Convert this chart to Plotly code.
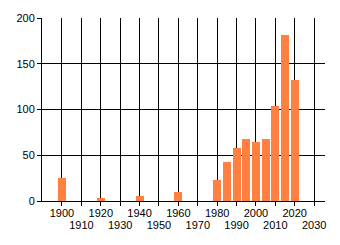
import plotly.graph_objects as go

years = [1900, 1920, 1940, 1960, 1980, 1985, 1990, 1995, 2000, 2005, 2010, 2015, 2020]
counts = [25, 3, 5, 10, 23, 43, 58, 68, 64, 68, 104, 181, 132]

upper_ticks = [1900, 1920, 1940, 1960, 1980, 2000, 2020]
lower_ticks = [1910, 1930, 1950, 1970, 1990, 2010, 2030]
all_ticks = sorted(upper_ticks + lower_ticks)
y_ticks = [0, 50, 100, 150, 200]

x_range = [1889.7, 2035.6]
font = dict(family="Liberation Sans, Arial, sans-serif", size=11, color="black")

fig = go.Figure()
fig.add_trace(go.Bar(x=years, y=counts, width=4.1, marker=dict(color="#FF8040", line=dict(width=0)),
                     showlegend=False, hoverinfo="skip"))
fig.add_trace(go.Scatter(x=[years[0]], y=[0], xaxis="x2", yaxis="y", mode="markers",
                         marker=dict(opacity=0), showlegend=False, hoverinfo="skip"))

fig.update_layout(
    width=340, height=245,
    margin=dict(l=42, r=15, t=15, b=44),
    paper_bgcolor="white", plot_bgcolor="white",
    font=font,
    bargap=0,
    xaxis=dict(range=x_range, tickmode="array", tickvals=all_ticks,
               ticktext=[str(t) if t in upper_ticks else "" for t in all_ticks],
               showgrid=True, gridcolor="black", gridwidth=1,
               showline=True, linecolor="black", linewidth=1,
               ticks="outside", ticklen=4, tickcolor="black", tickfont=font,
               ticklabelstandoff=-2,
               zeroline=False, fixedrange=True),
    xaxis2=dict(range=x_range, overlaying="x", anchor="y", side="bottom",
                tickmode="array", tickvals=lower_ticks, ticktext=[str(t) for t in lower_ticks],
                showgrid=False, showline=False, ticks="", ticklabelstandoff=16,
                tickfont=font, zeroline=False, fixedrange=True),
    yaxis=dict(range=[0, 200], tickmode="array", tickvals=y_ticks,
               showgrid=True, gridcolor="black", gridwidth=1,
               showline=True, linecolor="black", linewidth=1,
               ticks="outside", ticklen=4, tickcolor="black", tickfont=font,
               zeroline=False, fixedrange=True),
)

fig.write_html("out.html")
